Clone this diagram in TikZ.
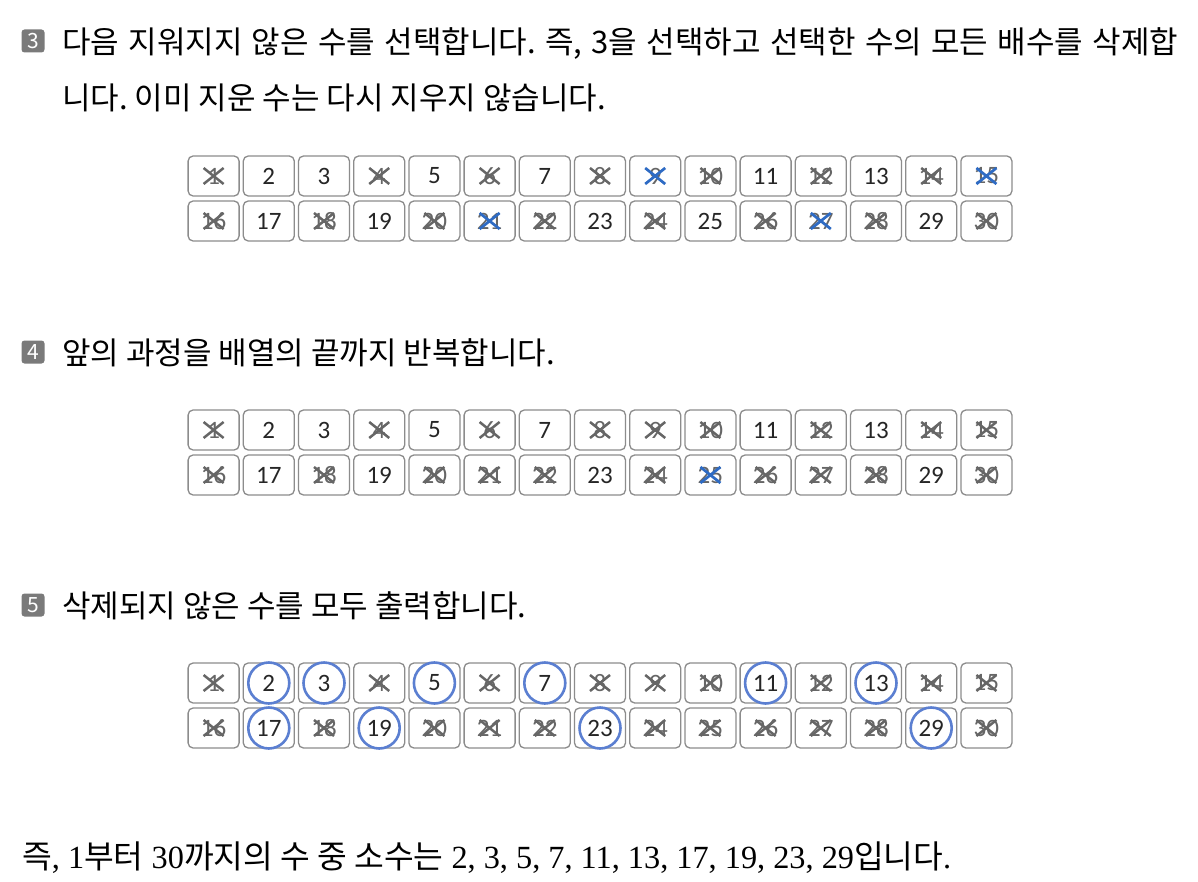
\documentclass[tikz,border=0pt]{standalone}
\usepackage{fontspec}
\setmainfont{Carlito}
\newfontfamily\kr{Noto Sans CJK KR}
\newfontfamily\serifnum{Liberation Serif}
\usetikzlibrary{positioning}
\frenchspacing

\definecolor{cellgray}{HTML}{8C8C8C}
\definecolor{stepgray}{HTML}{7A7A7A}
\definecolor{gonegray}{HTML}{666666}
\definecolor{xblue}{HTML}{2E6BC4}
\definecolor{ringblue}{HTML}{5B7FD1}

\tikzset{
  cell/.style={draw=cellgray, line width=1.3pt, rounded corners=5pt, fill=white,
    minimum width=51pt, minimum height=40pt, inner sep=0pt, text=black!85,
    font=\fontsize{25}{25}\selectfont},
  gone/.style={text=gonegray},
  xgray/.style={draw=gonegray, line width=2.5pt},
  xblue/.style={draw=xblue, line width=2.7pt},
  ring/.style={draw=ringblue, line width=2.6pt},
  stepmark/.style={fill=stepgray, rounded corners=3pt, minimum size=23pt,
    inner sep=0pt, text=white, font=\kr\fontsize{21}{21}\selectfont},
  line/.style={anchor=base west, inner sep=0pt, font=\kr\fontsize{31}{31}\selectfont},
}

% one cell of the 1..30 table: grid name, y of first row, number, style
\newcommand{\sievecell}[4]{%
  \pgfmathtruncatemacro{\sievecol}{mod(#3-1,15)}%
  \pgfmathtruncatemacro{\sieverow}{(#3-1)/15}%
  \node[cell,#4] (#1-#3) at ({213.6+55.2*\sievecol},{#2+45*\sieverow}) {#3};%
}
% cross over a cell
\newcommand{\strike}[2]{%
  \draw[#2] ([shift={(-10,-8)}]#1.center) -- ([shift={(10,8)}]#1.center)
            ([shift={(-10,8)}]#1.center) -- ([shift={(10,-8)}]#1.center);%
}

\begin{document}
\begin{tikzpicture}[x=1pt,y=-1pt]

  \fill[white] (0,0) rectangle (1198,882);
  \useasboundingbox (0,0) rectangle (1198,882);

  % step 3
  \node[stepmark] (m3) at (33,41) {3};
  \node[line] (t3a) at (62,54) {\hbox to 1116pt{다음 지워지지 않은 수를 선택합니다. 즉, 3을 선택하고 선택한 수의 모든 배수를 삭제합}};
  \node[line] (t3b) at (62,110) {니다. 이미 지운 수는 다시 지우지 않습니다.};

  \foreach \n in {2,3,5,7,11,13,17,19,23,25,29}
    {\sievecell{a}{176}{\n}{}}
  \foreach \n in {1,4,6,8,10,12,14,16,18,20,22,24,26,28,30}
    {\sievecell{a}{176}{\n}{gone}\strike{a-\n}{xgray}}
  \foreach \n in {9,15,21,27}
    {\sievecell{a}{176}{\n}{gone}\strike{a-\n}{xblue}}

  % step 4
  \node[stepmark] (m4) at (33,352) {4};
  \node[line] (t4) at (62,364) {앞의 과정을 배열의 끝까지 반복합니다.};

  \foreach \n in {2,3,5,7,11,13,17,19,23,29}
    {\sievecell{b}{430}{\n}{}}
  \foreach \n in {1,4,6,8,9,10,12,14,15,16,18,20,21,22,24,26,27,28,30}
    {\sievecell{b}{430}{\n}{gone}\strike{b-\n}{xgray}}
  \sievecell{b}{430}{25}{gone}\strike{b-25}{xblue}

  % step 5
  \node[stepmark] (m5) at (33,605) {5};
  \node[line] (t5) at (62,617) {삭제되지 않은 수를 모두 출력합니다.};

  \foreach \n in {2,3,5,7,11,13,17,19,23,29}
    {\sievecell{c}{683}{\n}{}\draw[ring] (c-\n.center) circle[radius=20.5pt];}
  \foreach \n in {1,4,6,8,9,10,12,14,15,16,18,20,21,22,24,25,26,27,28,30}
    {\sievecell{c}{683}{\n}{gone}\strike{c-\n}{xgray}}

  % result
  \node[line, font=\serifnum\fontsize{32.3}{32}\selectfont] (res) at (22,868)
    {{\kr 즉}, 1{\kr 부터} 30{\kr 까지의 수 중 소수는} 2, 3, 5, 7, 11, 13, 17, 19, 23, 29{\kr 입니다}.};

\end{tikzpicture}
\end{document}
